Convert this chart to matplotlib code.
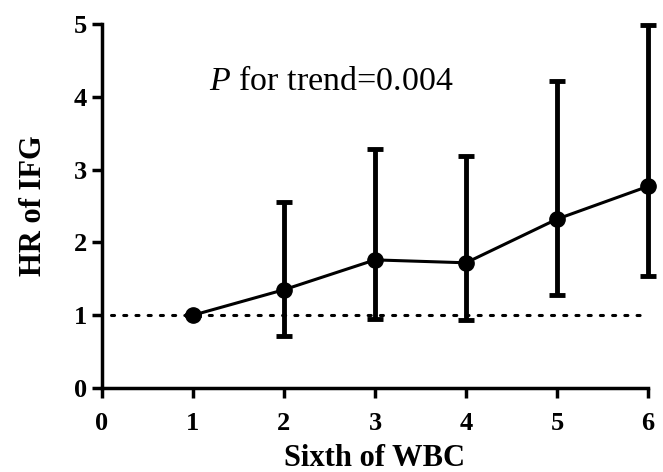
import numpy as np
import matplotlib
matplotlib.use("Agg")
import matplotlib.pyplot as plt

# Datos
sixth = [1, 2, 3, 4, 5, 6]
hr = [1.00, 1.35, 1.76, 1.72, 2.32, 2.77]
hr_low = [1.00, 0.71, 0.95, 0.93, 1.28, 1.54]
hr_high = [1.00, 2.56, 3.28, 3.19, 4.22, 4.99]
x_ticks = [0, 1, 2, 3, 4, 5, 6]
y_ticks = [0, 1, 2, 3, 4, 5]
trend_text = r"$\mathit{P}$ for trend=0.004"

plt.rcParams['font.family'] = ['Liberation Serif', 'DejaVu Serif']
plt.rcParams['mathtext.fontset'] = 'custom'
plt.rcParams['mathtext.rm'] = 'Liberation Serif'
plt.rcParams['mathtext.it'] = 'Liberation Serif:italic'

fig = plt.figure(figsize=(6.63, 4.72), dpi=100)
ax = fig.add_axes([0.1538, 0.178, 0.8235, 0.771])

hr = np.array(hr)
yerr = np.array([hr - np.array(hr_low), np.array(hr_high) - hr])

# Línea de referencia HR=1
ax.plot([0.1, 6], [1, 1], color='black', linestyle=(0, (1, 3)), linewidth=2.2,
        dash_capstyle='round', clip_on=False, zorder=1)

ax.errorbar(sixth, hr, yerr=yerr, fmt='o-', color='black', markersize=11,
            linewidth=2.2, elinewidth=3.5, capsize=6, capthick=3.5,
            clip_on=False, zorder=3)

ax.set_xlim(0, 6)
ax.set_ylim(0, 5)
ax.set_xticks(x_ticks)
ax.set_yticks(y_ticks)

for side in ['top', 'right']:
    ax.spines[side].set_visible(False)
for side in ['left', 'bottom']:
    ax.spines[side].set_linewidth(2.5)

ax.tick_params(width=2.5, length=7, labelsize=19)
ax.tick_params(axis='x', pad=10)
ax.tick_params(axis='y', pad=4)
for lab in ax.get_xticklabels() + ax.get_yticklabels():
    lab.set_fontweight('bold')

ax.set_xlabel("Sixth of WBC", fontsize=22, fontweight='bold', labelpad=7)
ax.set_ylabel("HR of IFG", fontsize=22, fontweight='bold')
ax.yaxis.set_label_coords(-0.099, 0.5)

ax.text(1.18, 4.09, trend_text, fontsize=24.5, ha='left', va='baseline')

fig.savefig("out.png", dpi=100)
